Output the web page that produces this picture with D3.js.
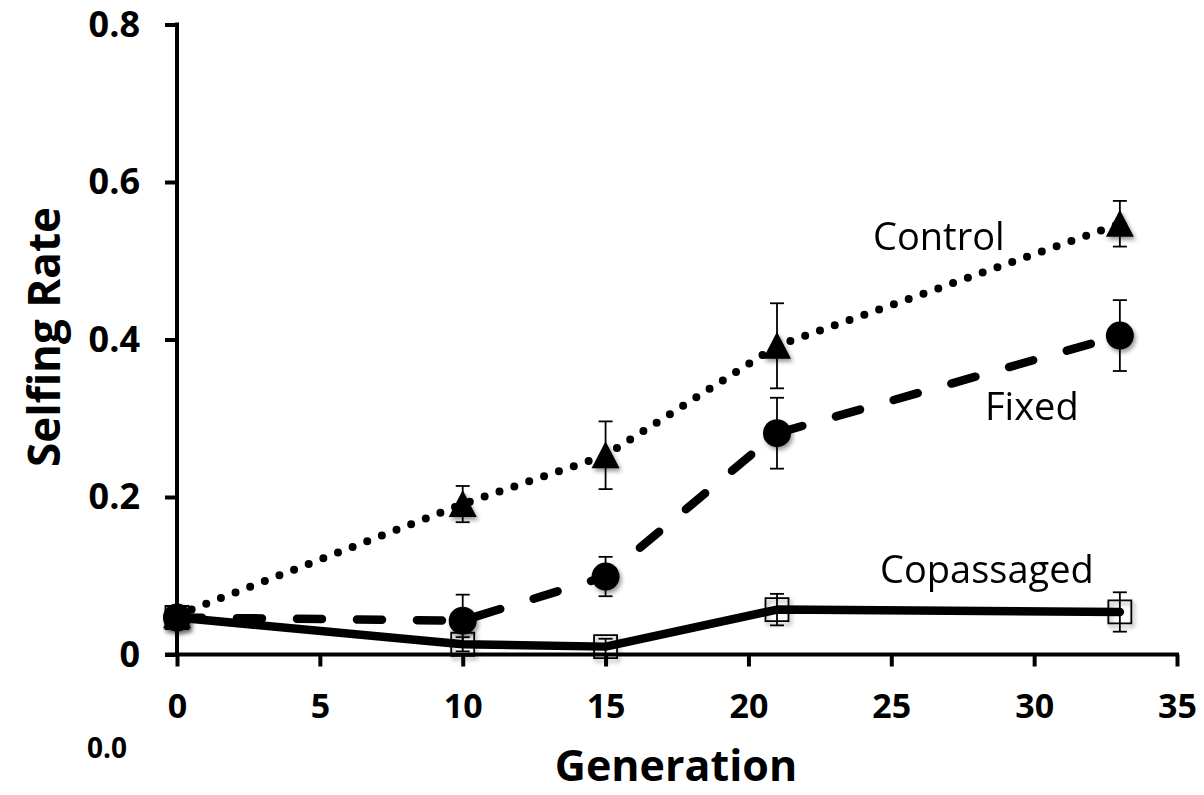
<!DOCTYPE html>
<html>
<head>
<meta charset="utf-8">
<script src="https://cdn.jsdelivr.net/npm/d3@7"></script>
<style>
  html, body { margin: 0; padding: 0; background: #fff; }
  svg { display: block; }
  text { font-family: "Open Sans", "DejaVu Sans", sans-serif; fill: #000; }
</style>
</head>
<body>
<svg id="chart" width="1204" height="795"></svg>
<script>
// Generations sampled
const generations = [0, 10, 15, 21, 33];

// Selfing rate (mean) and error per treatment
const controlMean = [0.050, 0.191, 0.253, 0.392, 0.547];
const controlErr  = [0.005, 0.023, 0.043, 0.054, 0.029];

const fixedMean = [0.047, 0.043, 0.099, 0.281, 0.405];
const fixedErr  = [0.005, 0.033, 0.025, 0.045, 0.045];

const copassagedMean = [0.047, 0.013, 0.010, 0.057, 0.054];
const copassagedErr  = [0.004, 0.009, 0.010, 0.020, 0.025];

// Axis ticks
const xTicks = [0, 5, 10, 15, 20, 25, 30, 35];
const yTicks = [0, 0.2, 0.4, 0.6, 0.8];
const yTickLabels = ["0", "0.2", "0.4", "0.6", "0.8"];

const series = [
  { name: "Control",    mean: controlMean,    err: controlErr,    marker: "triangle", dash: "0 15.7", width: 8 },
  { name: "Fixed",      mean: fixedMean,      err: fixedErr,      marker: "circle",   dash: "25 35",  width: 8.5 },
  { name: "Copassaged", mean: copassagedMean, err: copassagedErr, marker: "square",   dash: null,     width: 8.5 }
];

const svg = d3.select("#chart");

const x = d3.scaleLinear().domain([0, 35]).range([177, 1177]);
const y = d3.scaleLinear().domain([0, 0.8]).range([654.5, 24.5]);

// soft shadow under the markers
const defs = svg.append("defs");
const f = defs.append("filter").attr("id", "shadow")
  .attr("x", "-50%").attr("y", "-50%").attr("width", "200%").attr("height", "200%");
f.append("feDropShadow").attr("dx", 2).attr("dy", 3).attr("stdDeviation", 2.2)
  .attr("flood-color", "#000").attr("flood-opacity", 0.4);

// ---- axes ----
const yAxis = d3.axisLeft(y).tickValues(yTicks)
  .tickFormat((d, i) => yTickLabels[i]).tickSize(12).tickSizeOuter(0).tickPadding(25);
const gy = svg.append("g").attr("transform", `translate(${x(0)},0)`).call(yAxis);
gy.select(".domain").remove();
gy.selectAll(".tick line").attr("stroke", "#000").attr("stroke-width", 4);
gy.selectAll(".tick text").attr("font-size", 36).attr("font-weight", 700)
  .attr("font-family", "'Open Sans', sans-serif");

const xAxis = d3.axisBottom(x).tickValues(xTicks).tickFormat(d3.format("d"))
  .tickSize(12).tickSizeOuter(0).tickPadding(27);
const gx = svg.append("g").attr("transform", `translate(0,${y(0)})`).call(xAxis);
gx.select(".domain").remove();
gx.selectAll(".tick line").attr("stroke", "#000").attr("stroke-width", 4);
gx.selectAll(".tick text").attr("font-size", 34).attr("font-weight", 700)
  .attr("font-family", "'Open Sans', sans-serif");

// axis lines
svg.append("line").attr("x1", x(0)).attr("x2", x(0)).attr("y1", y(0.8) - 2).attr("y2", y(0))
  .attr("stroke", "#000").attr("stroke-width", 4);
svg.append("line").attr("x1", x(0) - 12).attr("x2", x(35) + 2).attr("y1", y(0)).attr("y2", y(0))
  .attr("stroke", "#000").attr("stroke-width", 4);

// ---- series lines ----
const line = d3.line().x((d, i) => x(generations[i])).y(d => y(d));

const plot = svg.append("g");
series.slice().reverse().forEach(s => {
  plot.append("path").datum(s.mean)
    .attr("d", line)
    .attr("fill", "none")
    .attr("stroke", "#000")
    .attr("stroke-width", s.width)
    .attr("stroke-linecap", "round")
    .attr("stroke-linejoin", "round")
    .attr("stroke-dasharray", s.dash);
});

// ---- error bars ----
series.forEach(s => {
  const g = plot.append("g");
  s.mean.forEach((m, i) => {
    const cx = x(generations[i]);
    const lo = y(m - s.err[i]), hi = y(m + s.err[i]);
    g.append("line").attr("x1", cx).attr("x2", cx).attr("y1", lo).attr("y2", hi)
      .attr("stroke", "#000").attr("stroke-width", 1.8);
    [lo, hi].forEach(yy => g.append("line")
      .attr("x1", cx - 7).attr("x2", cx + 7).attr("y1", yy).attr("y2", yy)
      .attr("stroke", "#000").attr("stroke-width", 1.8));
  });
});

// ---- markers ----
const symbolPath = {
  triangle: () => "M0,-14 L14,13 L-14,13 Z",
  circle: () => d3.symbol(d3.symbolCircle, Math.PI * 14 * 14)(),
  square: () => "M-11.5,-11.5 H11.5 V11.5 H-11.5 Z"
};

series.slice().reverse().forEach(s => {
  plot.append("g").attr("filter", "url(#shadow)")
    .selectAll("path").data(s.mean).join("path")
    .attr("transform", (d, i) => `translate(${x(generations[i])},${y(d)})`)
    .attr("d", symbolPath[s.marker]())
    .attr("fill", s.marker === "square" ? "none" : "#000")
    .attr("stroke", "#000")
    .attr("stroke-width", s.marker === "square" ? 1.8 : 0);
});

// ---- series labels ----
const labels = [
  { text: "Control",    x: 873, y: 250 },
  { text: "Fixed",      x: 985, y: 420 },
  { text: "Copassaged", x: 880, y: 583 }
];
svg.append("g").selectAll("text").data(labels).join("text")
  .attr("x", d => d.x).attr("y", d => d.y)
  .attr("font-size", 38).attr("font-weight", 400)
  .text(d => d.text);

// ---- axis titles ----
svg.append("text")
  .attr("transform", `translate(60,337) rotate(-90)`)
  .attr("text-anchor", "middle")
  .attr("font-size", 44).attr("font-weight", 700)
  .text("Selfing Rate");

svg.append("text")
  .attr("x", 676).attr("y", 781)
  .attr("text-anchor", "middle")
  .attr("font-size", 43).attr("font-weight", 700)
  .text("Generation");

// stray label below the axis origin
svg.append("text")
  .attr("x", 87).attr("y", 758)
  .attr("font-size", 28).attr("font-weight", 700)
  .text("0.0");
</script>
</body>
</html>
